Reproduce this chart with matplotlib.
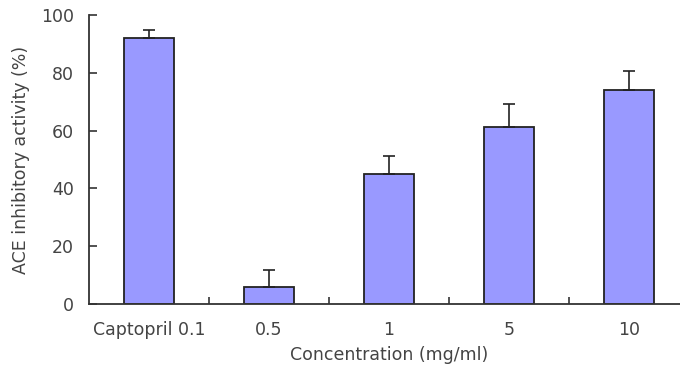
import matplotlib
matplotlib.use('Agg')
import matplotlib.pyplot as plt
import numpy as np

categories = ["Captopril 0.1", "0.5", "1", "5", "10"]
activity = [92.1, 6.0, 45.0, 61.2, 74.0]
error_up = [2.6, 5.6, 6.1, 7.9, 6.6]

plt.rcParams['font.family'] = ['DejaVu Sans']

fig = plt.figure(figsize=(6.8, 3.9), dpi=100)
ax = fig.add_axes([0.131, 0.2205, 0.882, 0.741])

x = np.arange(len(categories))
ax.bar(x, activity, width=0.42, color='#9999ff', edgecolor='#222222', linewidth=1.3,
       yerr=[np.zeros(len(error_up)), error_up], capsize=4.5,
       error_kw=dict(ecolor='#222222', elinewidth=1.2, capthick=1.2))

ax.set_xlim(-0.5, 4.5)
ax.set_ylim(0, 100)
ax.set_yticks([0, 20, 40, 60, 80, 100])
ax.set_xticks(x)
ax.set_xticklabels(categories)
ax.set_xticks(x[:-1] + 0.5, minor=True)
ax.tick_params(axis='x', which='major', length=0, pad=12, labelsize=12.5, colors='#444444')
ax.tick_params(axis='x', which='minor', direction='in', length=5, width=1.2, color='#333333')
ax.tick_params(axis='y', direction='in', length=6, width=1.2, pad=11, labelsize=12.5,
               colors='#444444')
ax.tick_params(axis='y', colors='#333333', labelcolor='#444444')

for side in ['top', 'right']:
    ax.spines[side].set_visible(False)
for side in ['left', 'bottom']:
    ax.spines[side].set_linewidth(1.3)
    ax.spines[side].set_color('#333333')

ax.set_xlabel("Concentration (mg/ml)", fontsize=12.5, color='#444444', labelpad=5)
ax.set_ylabel("ACE inhibitory activity (%)", fontsize=12.5, color='#444444', labelpad=8)

fig.savefig("out.png", dpi=100)
